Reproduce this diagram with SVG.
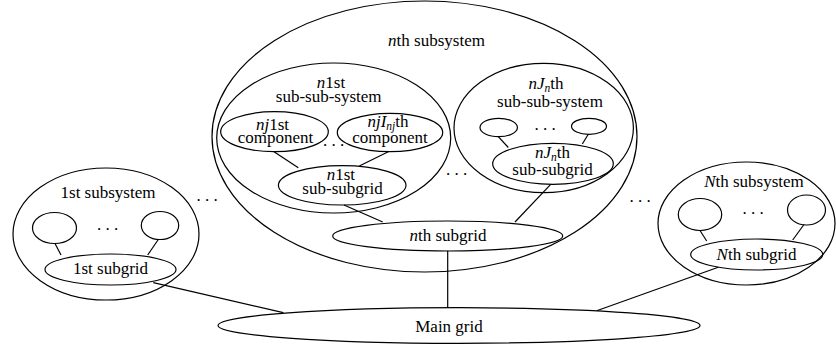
<svg xmlns="http://www.w3.org/2000/svg" width="836" height="347" viewBox="0 0 836 347">
<style>
.n{fill:none;stroke:#000;stroke-width:1.2}
#connectors line{stroke:#000;stroke-width:1.2}
text{font-size:17px;fill:#000;text-anchor:middle}
.i{font-style:italic}
.s{font-size:11.5px;font-style:italic}
</style>
<rect width="836" height="347" fill="#fff"/>
<g id="connectors">
<line x1="153.3" y1="282.7" x2="283.3" y2="312.7"/>
<line x1="447.7" y1="250.7" x2="447.7" y2="308"/>
<line x1="718.3" y1="267.3" x2="596.7" y2="310.7"/>
<line x1="55" y1="243.5" x2="61" y2="255"/>
<line x1="158.3" y1="239.5" x2="147.7" y2="255"/>
<line x1="700" y1="230.5" x2="706.7" y2="241"/>
<line x1="804" y1="224.5" x2="792.7" y2="240"/>
<line x1="274" y1="151.7" x2="298.3" y2="167.7"/>
<line x1="388.3" y1="151.7" x2="359.3" y2="166"/>
<line x1="344" y1="205" x2="382.7" y2="222"/>
<line x1="498.3" y1="136.7" x2="508.3" y2="147.5"/>
<line x1="588.3" y1="134.3" x2="582.3" y2="144"/>
<line x1="550.7" y1="184.3" x2="515" y2="222"/>
</g>
<g font-family="'Liberation Serif', 'Times New Roman', Tinos, 'DejaVu Serif', serif">
<g id="main-grid">
<ellipse class="n" cx="459" cy="325.5" rx="241" ry="17.8"/>
<text x="449" y="332">Main grid</text>
</g>
<g id="subsystem-1">
<ellipse class="n" cx="106" cy="234" rx="93" ry="66"/>
<text x="108" y="197.5">1st subsystem</text>
</g>
<g id="comp-1a"><ellipse class="n" cx="54.5" cy="228" rx="22" ry="15.5"/></g>
<g id="comp-1b"><ellipse class="n" cx="160" cy="225.5" rx="18.7" ry="14"/></g>
<g id="subgrid-1">
<ellipse class="n" cx="110.5" cy="269.5" rx="65.5" ry="15.5"/>
<text x="110.5" y="273.5">1st subgrid</text>
</g>
<g id="subsystem-n">
<ellipse class="n" cx="424.5" cy="136.5" rx="212.5" ry="135.5"/>
<text x="436.5" y="46"><tspan class="i">n</tspan>th subsystem</text>
</g>
<g id="subsubsystem-n1">
<ellipse class="n" cx="333.7" cy="138" rx="117" ry="75"/>
<text x="331" y="88"><tspan class="i">n</tspan>1st</text>
<text x="328.7" y="102">sub-sub-system</text>
</g>
<g id="component-nj1">
<ellipse class="n" cx="274.5" cy="131.7" rx="53.8" ry="20"/>
<text x="272.5" y="129.5"><tspan class="i">nj</tspan>1st</text>
<text x="275.5" y="143">component</text>
</g>
<g id="component-njI">
<ellipse class="n" cx="390" cy="132.5" rx="52.7" ry="19.2"/>
<text x="388" y="126.5"><tspan class="i">njI</tspan><tspan class="s" dy="3">nj</tspan><tspan dy="-3">th</tspan></text>
<text x="390" y="143">component</text>
</g>
<g id="subsubgrid-n1">
<ellipse class="n" cx="342.2" cy="185.3" rx="63.8" ry="19.7"/>
<text x="340.8" y="180"><tspan class="i">n</tspan>1st</text>
<text x="342.5" y="194">sub-subgrid</text>
</g>
<g id="subsubsystem-nJ">
<ellipse class="n" cx="543.7" cy="128" rx="89.7" ry="64.7"/>
<text x="546" y="89"><tspan class="i">nJ</tspan><tspan class="s" dy="3">n</tspan><tspan dy="-3">th</tspan></text>
<text x="550" y="106.5">sub-sub-system</text>
</g>
<g id="comp-nJa"><ellipse class="n" cx="498.7" cy="127.5" rx="18.7" ry="9.2"/></g>
<g id="comp-nJb"><ellipse class="n" cx="589" cy="126.3" rx="17.5" ry="8"/></g>
<g id="subsubgrid-nJ">
<ellipse class="n" cx="553" cy="163.8" rx="60.3" ry="20.5"/>
<text x="552.5" y="158"><tspan class="i">nJ</tspan><tspan class="s" dy="3">n</tspan><tspan dy="-3">th</tspan></text>
<text x="552.5" y="175">sub-subgrid</text>
</g>
<g id="subgrid-n">
<ellipse class="n" cx="447.7" cy="236" rx="115" ry="15"/>
<text x="448" y="240.5"><tspan class="i">n</tspan>th subgrid</text>
</g>
<g id="subsystem-N">
<ellipse class="n" cx="746.5" cy="223.5" rx="88.5" ry="61.5"/>
<text x="754" y="186.7"><tspan class="i">N</tspan>th subsystem</text>
</g>
<g id="comp-Na"><ellipse class="n" cx="700" cy="214.5" rx="21.7" ry="16"/></g>
<g id="comp-Nb"><ellipse class="n" cx="806.5" cy="210" rx="19" ry="15"/></g>
<g id="subgrid-N">
<ellipse class="n" cx="756.7" cy="254.5" rx="66" ry="15.5"/>
<text x="756.5" y="260"><tspan class="i">N</tspan>th subgrid</text>
</g>
<g id="ellipses">
<text x="107.5" y="229.5">. . .</text>
<text x="207" y="200.5">. . .</text>
<text x="333.5" y="146">. . .</text>
<text x="456.7" y="175">. . .</text>
<text x="545" y="130">. . .</text>
<text x="640" y="202">. . .</text>
<text x="753" y="214.2">. . .</text>
</g>
</g>
</svg>
